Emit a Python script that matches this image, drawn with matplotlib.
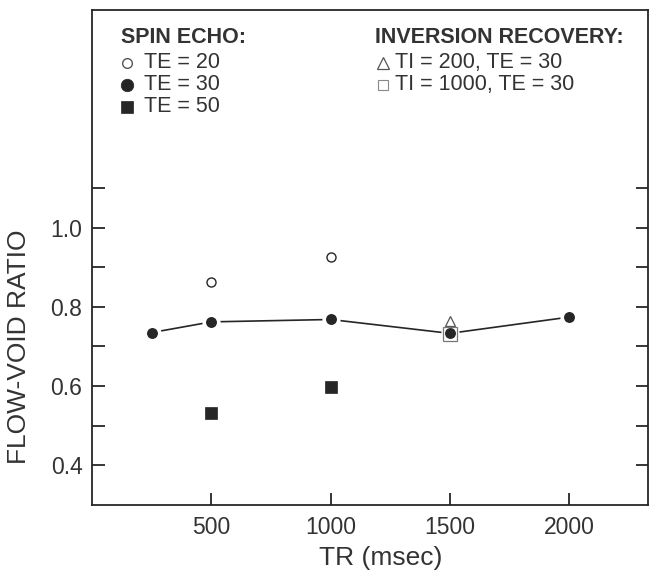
import matplotlib
matplotlib.use("Agg")
import matplotlib.pyplot as plt

plt.rcParams['font.family'] = ['Liberation Sans', 'DejaVu Sans']

# Spin echo, TE = 30 (connected series)
tr_te30 = [250, 500, 1000, 1500, 2000]
ratio_te30 = [0.735, 0.762, 0.768, 0.733, 0.774]

# Spin echo, TE = 20
tr_te20 = [500, 1000]
ratio_te20 = [0.862, 0.925]

# Spin echo, TE = 50
tr_te50 = [500, 1000]
ratio_te50 = [0.531, 0.598]

# Inversion recovery
tr_ti200 = [1500]
ratio_ti200 = [0.763]
tr_ti1000 = [1500]
ratio_ti1000 = [0.731]

x_ticks = [500, 1000, 1500, 2000]
y_ticks = [0.4, 0.6, 0.8, 1.0]
y_minor = [0.5, 0.7, 0.9, 1.1]
y_labels = ['0.4', '0.6', '0.8', '1.0']

dark = '#262626'
txt = '#333333'

fig = plt.figure(figsize=(6.49, 5.75), dpi=100)
ax = fig.add_axes([0.142, 0.122, 0.856, 0.861])

# connected TE = 30 series, white ring around markers leaves a gap in the line
ax.plot(tr_te30, ratio_te30, color=dark, lw=1.2, zorder=2)
ax.plot(tr_te30, ratio_te30, ls='none', marker='o', ms=10.5, mfc=dark,
        mec='white', mew=2.6, zorder=3)
ax.plot(tr_te20, ratio_te20, ls='none', marker='o', ms=6.5, mfc='white',
        mec=dark, mew=1.0, zorder=3)
ax.plot(tr_te50, ratio_te50, ls='none', marker='s', ms=8.0, mfc=dark,
        mec=dark, mew=0.5, zorder=3)
ax.plot(tr_ti200, ratio_ti200, ls='none', marker='^', ms=6.5, mfc='white',
        mec='#555555', mew=0.9, zorder=4)
ax.plot(tr_ti1000, ratio_ti1000, ls='none', marker='s', ms=10, mfc='none',
        mec='#777777', mew=0.9, zorder=4)

ax.set_xlim(0, 2330)
ax.set_ylim(0.3, 1.55)
ax.set_xticks(x_ticks)
ax.set_yticks(y_ticks)
ax.set_yticks(y_minor, minor=True)
ax.set_yticklabels(y_labels)

ax.tick_params(axis='both', which='both', direction='in', length=9, width=1.3,
               color=dark, labelcolor=txt, labelsize=16.5)
ax.tick_params(axis='y', which='both', right=True, pad=7)
ax.tick_params(axis='x', pad=8)
for s in ax.spines.values():
    s.set_color(dark)
    s.set_linewidth(1.3)

ax.set_xlabel('TR (msec)', fontsize=19, color=txt)
ax.xaxis.set_label_coords(0.52, -0.084)
ax.set_ylabel('FLOW-VOID RATIO', fontsize=19, color=txt)
ax.yaxis.set_label_coords(-0.11, 0.32)

# key, drawn in axes fraction
def px(x, y):
    return (x - 92) / 556, (505 - y) / 495

key_size = 15.5
tx, ty = px(121, 38)
ax.text(tx, ty, 'SPIN ECHO:', transform=ax.transAxes, fontsize=key_size,
        fontweight='bold', color=txt, va='center', ha='left')
tx, ty = px(375, 38)
ax.text(tx, ty, 'INVERSION RECOVERY:', transform=ax.transAxes, fontsize=key_size,
        fontweight='bold', color=txt, va='center', ha='left')

left_rows = [
    ('TE = 20', dict(marker='o', ms=7, mfc='white', mec='#555555', mew=1.0)),
    ('TE = 30', dict(marker='o', ms=9, mfc=dark, mec=dark, mew=0.5)),
    ('TE = 50', dict(marker='s', ms=8, mfc=dark, mec=dark, mew=0.5)),
]
right_rows = [
    ('TI = 200, TE = 30', dict(marker='^', ms=8.5, mfc='white', mec='#555555', mew=0.9)),
    ('TI = 1000, TE = 30', dict(marker='s', ms=7.5, mfc='white', mec='#888888', mew=0.8)),
]
row_y = [63, 85, 107]
for (label, style), yy in zip(left_rows, row_y):
    mx, my = px(127, yy)
    ax.plot([mx], [my], transform=ax.transAxes, ls='none', clip_on=False, **style)
    tx, ty = px(144, yy)
    ax.text(tx, ty, label, transform=ax.transAxes, fontsize=key_size, color=txt,
            va='center', ha='left')
for (label, style), yy in zip(right_rows, row_y):
    mx, my = px(383, yy)
    ax.plot([mx], [my], transform=ax.transAxes, ls='none', clip_on=False, **style)
    tx, ty = px(395, yy)
    ax.text(tx, ty, label, transform=ax.transAxes, fontsize=key_size, color=txt,
            va='center', ha='left')

fig.savefig('out.png', dpi=100)
